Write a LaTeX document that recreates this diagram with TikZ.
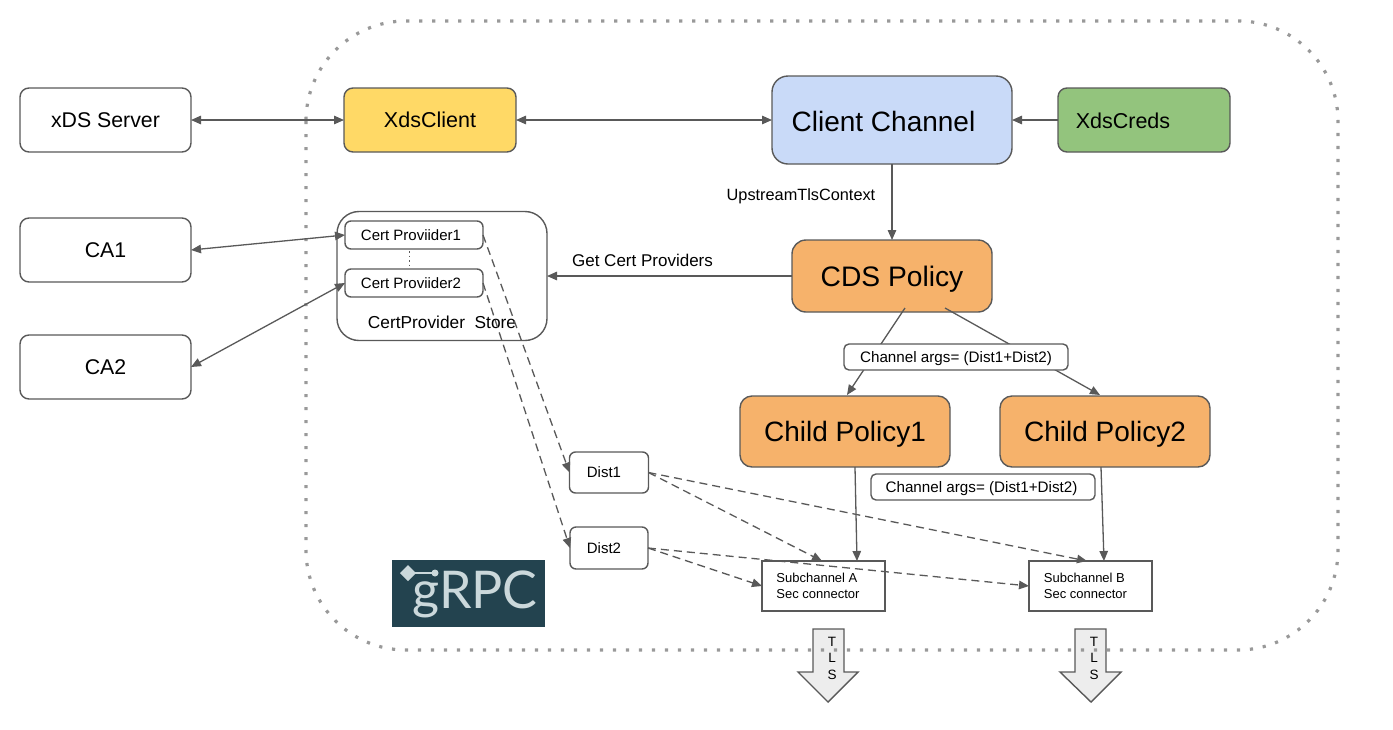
\documentclass[tikz,border=0pt]{standalone}
\usepackage{fontspec}
\setmainfont{Liberation Sans}
\newfontfamily\logofont{Lato}
\usetikzlibrary{arrows.meta,calc}
\definecolor{ln}{HTML}{595959}
\definecolor{cyellow}{HTML}{FFD966}
\definecolor{cblue}{HTML}{C9DAF8}
\definecolor{cgreen}{HTML}{93C47D}
\definecolor{corange}{HTML}{F6B26B}
\definecolor{cgrpc}{HTML}{23434F}
\definecolor{cgrpct}{HTML}{CBD8DB}
\newcommand{\fs}[1]{\fontsize{#1}{#1}\selectfont}
\tikzset{
 x=1pt,y=-1pt,
 tf/.style={font=\fs{#1},text height=0.72*#1 pt,text depth=0pt},
 box/.style={draw=ln,line width=1.4pt,fill=white,rounded corners=#1,inner sep=0pt,outer sep=0pt,align=center},
 box/.default=9pt,
 conn/.style={draw=ln,line width=1.3pt,-{Triangle[length=10pt,width=8.5pt]}},
 conn2/.style={draw=ln,line width=1.3pt,{Triangle[length=10pt,width=8.5pt]}-{Triangle[length=10pt,width=8.5pt]}},
 dconn/.style={conn,dash pattern=on 8pt off 5pt},
 plain/.style={inner sep=0pt,outer sep=0pt,align=center},
 tls/.style={draw=ln,line width=1.4pt,fill=black!7,line join=miter},
}
\begin{document}
\begin{tikzpicture}
\useasboundingbox (0,0) rectangle (1393,729);
% TLS arrows
\draw[tls] (813,629) -- (844,629) -- (844,672) -- (858,672) -- (828,702) -- (798,672) -- (813,672) -- cycle;
\draw[tls] (1075,629) -- (1106,629) -- (1106,672) -- (1121,672) -- (1091,702) -- (1060,672) -- (1075,672) -- cycle;
\node[plain,font=\fs{13.5}] (tlsa) at (832,658) {T\\[3pt]L\\[3pt]S};
\node[plain,font=\fs{13.5}] (tlsb) at (1094,658) {T\\[3pt]L\\[3pt]S};
% frame
\draw[color=black!40,line width=3.2pt,dash pattern=on 3.2pt off 9.8pt,rounded corners=100pt] (306,21) rectangle (1338,650);
% left column
\node[box,tf=21.3,minimum width=171pt,minimum height=64pt] (xds) at (105.5,120) {xDS Server};
\node[box,tf=21.3,minimum width=171pt,minimum height=64pt] (ca1) at (105.5,250) {CA1};
\node[box,tf=21.3,minimum width=171pt,minimum height=64pt] (ca2) at (105.5,367) {CA2};
\node[box,tf=21.5,fill=cyellow,minimum width=172pt,minimum height=64pt] (xclient) at (430,120) {XdsClient};
\node[box=16pt,fill=cblue,minimum width=240pt,minimum height=88pt,label={[plain,tf=28,xshift=-8.5pt,yshift=-1pt]center:Client Channel}] (chan) at (892,120) {};
\node[box,fill=cgreen,minimum width=172pt,minimum height=64pt,label={[plain,tf=21.5,xshift=-21pt,yshift=-0.5pt]center:XdsCreds}] (creds) at (1144,120) {};
% store
\node[box=22pt,minimum width=210pt,minimum height=129pt,label={[plain,tf=17.3,yshift=-46pt]center:CertProvider\ \ Store}] (store) at (442,276) {};
\node[box=6pt,minimum width=138pt,minimum height=28pt,label={[plain,tf=15,xshift=-3pt]center:Cert Proviider1}] (p1) at (414,235) {};
\node[box=6pt,minimum width=138pt,minimum height=28pt,label={[plain,tf=15,xshift=-3pt]center:Cert Proviider2}] (p2) at (414,283) {};
\draw[ln,line width=1pt,dash pattern=on 1.5pt off 3pt] (p1.south) ++(-5,2) coordinate (dota) -- ++(0,16) coordinate (dotb);
% right side
\node[box=14pt,tf=28.2,fill=corange,minimum width=200pt,minimum height=72pt] (cds) at (892,276) {CDS Policy};
\node[box=12pt,tf=28,fill=corange,minimum width=210pt,minimum height=71pt] (c1) at (845,431.5) {Child Policy1};
\node[box=12pt,tf=28,fill=corange,minimum width=210pt,minimum height=71pt] (c2) at (1105,431.5) {Child Policy2};
\node[box=0pt,minimum width=123pt,minimum height=50pt,label={[plain,font=\fs{13},align=left,xshift=-5.5pt]center:Subchannel A\\[3pt]Sec connector}] (sa) at (823.5,586) {};
\node[box=0pt,minimum width=123pt,minimum height=50pt,label={[plain,font=\fs{13},align=left,xshift=-5pt]center:Subchannel B\\[3pt]Sec connector}] (sb) at (1090.5,586) {};
\node[box=6pt,minimum width=79pt,minimum height=41pt,label={[plain,tf=15,xshift=-5pt]center:Dist1}] (d1) at (609,472.5) {};
\node[box=6pt,minimum width=78pt,minimum height=42pt,label={[plain,tf=15,xshift=-5pt]center:Dist2}] (d2) at (609,548) {};
% connectors
\draw[conn2] (xds.east) -- (xclient.west);
\draw[conn2] (xclient.east) -- (chan.west);
\draw[conn] (creds.west) -- (chan.east);
\draw[conn] (chan.south) -- (cds.north);
\draw[conn] (cds.west) -- (store.east);
\draw[conn2] (ca1.east) -- (p1.west);
\draw[conn2] (ca2.east) -- (p2.west);
\draw[dconn] (p1.east) -- (d1.west);
\draw[dconn] (p2.east) -- (d2.west);
\draw[dconn] (d1.east) -- ($(sa.north west)+(60,0)$);
\draw[dconn] (d1.east) -- ($(sb.north west)+(58,0)$);
\draw[dconn] (d2.east) -- (sa.west);
\draw[dconn] (d2.east) -- (sb.west);
\draw[conn] ($(c1.south west)+(115,0)$) -- ($(sa.north west)+(95,0)$);
\draw[conn] ($(c2.south west)+(101,0)$) -- ($(sb.north west)+(75,0)$);
\draw[conn] ($(cds.south west)+(113,-4)$) -- ($(c1.north west)+(107,-1)$);
\draw[conn] ($(cds.south west)+(153,-4)$) -- ($(c2.north west)+(100,-1)$);
% labels
\node[box=5pt,tf=15.2,minimum width=224pt,minimum height=26pt] (args1) at (956,357) {Channel args= (Dist1+Dist2)};
\node[box=5pt,minimum width=224pt,minimum height=26pt,label={[plain,tf=15.2,xshift=-1.5pt]center:Channel args= (Dist1+Dist2)}] (args2) at (983,487) {};
\node[plain,tf=16.3] (lup) at (801,194.5) {UpstreamTlsContext};
\node[plain,tf=17] (lget) at (642.5,260) {Get Cert Providers};
% logo
\node[fill=cgrpc,inner sep=0pt,outer sep=0pt,minimum width=153pt,minimum height=67pt] (logo) at (468.5,593.5) {};
\node[inner sep=0pt,outer sep=0pt,text=cgrpct,font=\logofont\fs{52}] (logot) at (475,594) {gRPC};
\fill[cgrpct] (400,573) -- (408,565) -- (416,573) -- (408,581) -- cycle;
\draw[cgrpct,line width=1.5pt] (412,573) -- (434,573);
\fill[cgrpct] (435,573) circle (3.5pt);
\end{tikzpicture}
\end{document}
